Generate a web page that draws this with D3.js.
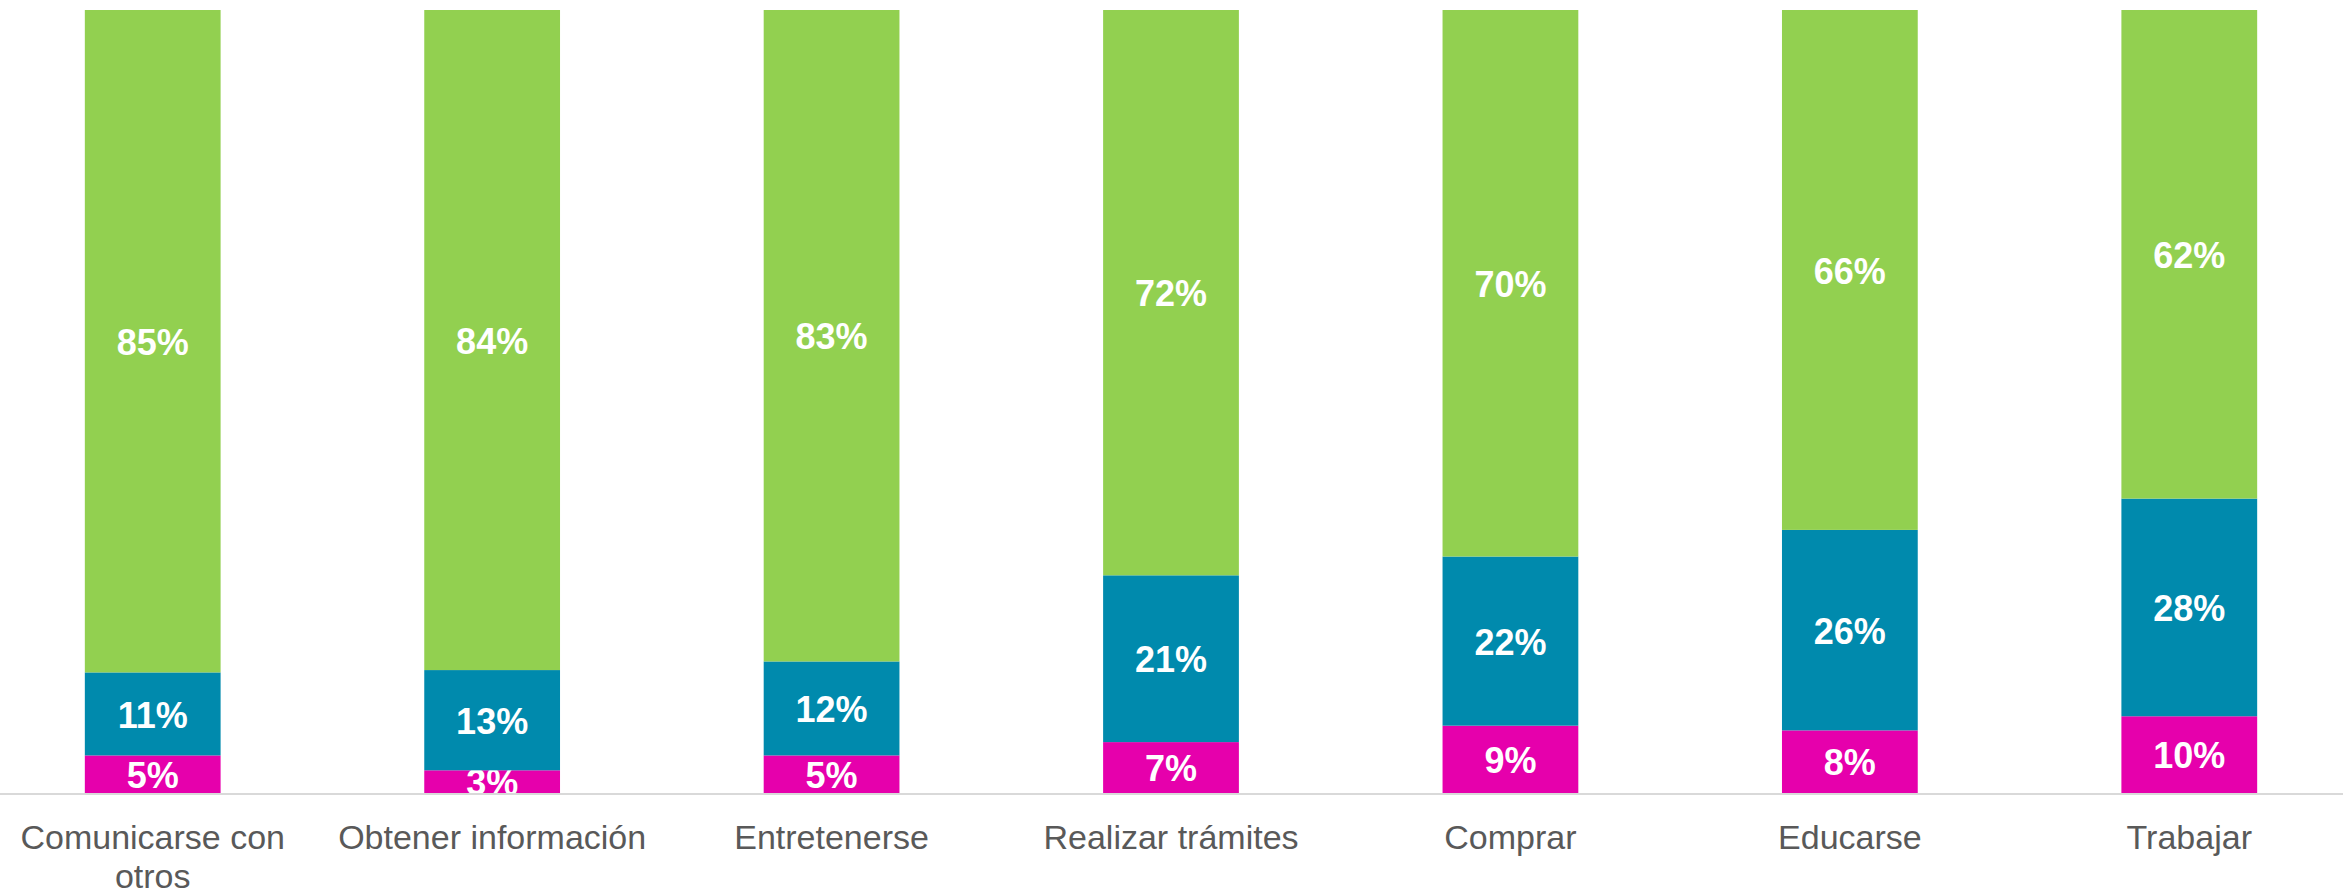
<!DOCTYPE html>
<html>
<head>
<meta charset="utf-8">
<script src="https://cdn.jsdelivr.net/npm/d3@7"></script>
<style>
  html, body { margin: 0; padding: 0; background: #fff; }
  svg { display: block; font-family: "Liberation Sans", Arial, sans-serif; }
</style>
</head>
<body>
<svg id="chart" width="2343" height="896"></svg>
<script>
const categories = ["Comunicarse con otros", "Obtener información", "Entretenerse",
  "Realizar trámites", "Comprar", "Educarse", "Trabajar"];
const seriesKeys = ["rosa", "azul", "verde"];
const rosa  = [4.8, 2.9, 4.8, 6.5, 8.6, 8.0, 9.8];
const azul  = [10.6, 12.8, 12.0, 21.3, 21.6, 25.6, 27.8];
const verde = [84.6, 84.3, 83.2, 72.2, 69.8, 66.4, 62.4];
const colors = ["#E600AC", "#008AAD", "#92D050"];

const rows = categories.map((c, i) => ({ cat: c, rosa: rosa[i], azul: azul[i], verde: verde[i] }));

const W = 2343, H = 896;
const plotTop = 10, plotBottom = 793;

const svg = d3.select("#chart");

const x = d3.scaleBand()
  .domain(categories)
  .range([-17, 2359])
  .paddingInner(0.6)
  .paddingOuter(0.3);

const y = d3.scaleLinear()
  .domain([0, 1])
  .range([plotBottom, plotTop]);

const color = d3.scaleOrdinal().domain(seriesKeys).range(colors);

const stacked = d3.stack()
  .keys(seriesKeys)
  .offset(d3.stackOffsetExpand)(rows);

svg.append("defs").append("clipPath").attr("id", "plot")
  .append("rect").attr("x", 0).attr("y", 0).attr("width", W).attr("height", plotBottom);

const g = svg.append("g").attr("clip-path", "url(#plot)");

const layer = g.selectAll("g.layer")
  .data(stacked)
  .enter().append("g")
  .attr("class", "layer")
  .attr("fill", d => color(d.key));

layer.selectAll("rect")
  .data(d => d)
  .enter().append("rect")
  .attr("x", d => x(d.data.cat))
  .attr("y", d => y(d[1]))
  .attr("width", x.bandwidth())
  .attr("height", d => y(d[0]) - y(d[1]));

// value labels
layer.selectAll("text")
  .data(d => d.map(p => Object.assign(p, { key: d.key })))
  .enter().append("text")
  .attr("x", d => x(d.data.cat) + x.bandwidth() / 2)
  .attr("y", d => (y(d[0]) + y(d[1])) / 2)
  .attr("dy", "0.38em")
  .attr("text-anchor", "middle")
  .attr("fill", "#fff")
  .attr("font-weight", "bold")
  .attr("font-size", 36)
  .text(d => Math.round(d.data[d.key]) + "%");

// x axis
const xAxis = svg.append("g")
  .attr("transform", `translate(0,${plotBottom})`)
  .call(d3.axisBottom(x).tickSize(0).tickPadding(0));

xAxis.select(".domain").remove();
svg.append("line")
  .attr("x1", 0).attr("x2", W)
  .attr("y1", plotBottom + 1).attr("y2", plotBottom + 1)
  .attr("stroke", "#d9d9d9").attr("stroke-width", 2);

xAxis.selectAll("text")
  .attr("font-size", 34)
  .attr("fill", "#595959")
  .attr("font-family", "'Liberation Sans', Arial, sans-serif")
  .attr("y", 56)
  .attr("dy", 0)
  .call(wrap, x.step());

function wrap(texts, width) {
  texts.each(function () {
    const text = d3.select(this);
    const words = text.text().split(/\s+/);
    const yy = text.attr("y");
    text.text(null);
    let line = [];
    let lineNo = 0;
    let tspan = text.append("tspan").attr("x", 0).attr("y", yy);
    words.forEach(w => {
      line.push(w);
      tspan.text(line.join(" "));
      if (tspan.node().getComputedTextLength() > width - 4 && line.length > 1) {
        line.pop();
        tspan.text(line.join(" "));
        line = [w];
        lineNo++;
        tspan = text.append("tspan").attr("x", 0).attr("y", +yy + lineNo * 39).text(w);
      }
    });
  });
}
</script>
</body>
</html>
